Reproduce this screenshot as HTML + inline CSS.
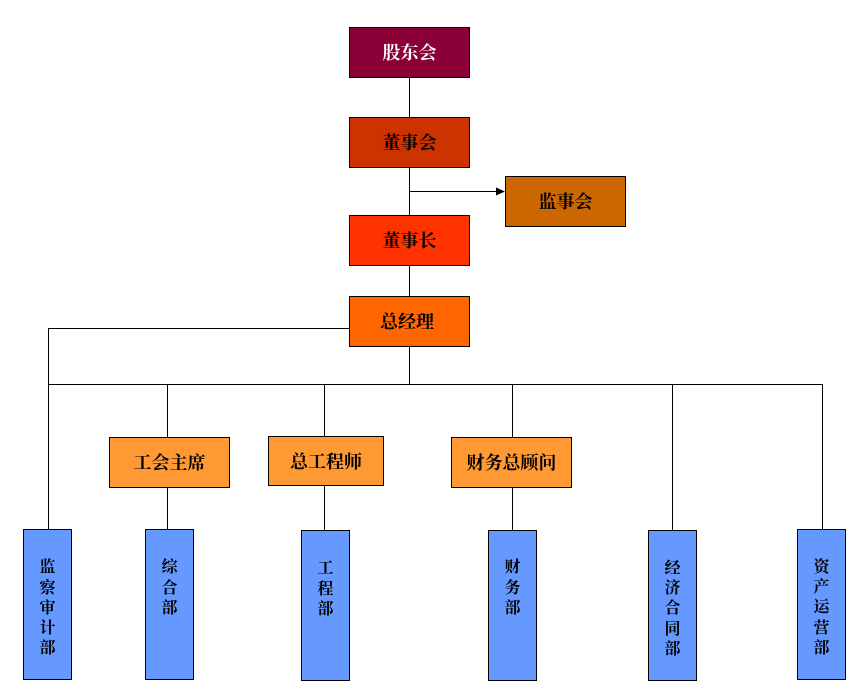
<!DOCTYPE html>
<html><head><meta charset="utf-8"><style>
html,body{margin:0;padding:0;background:#fff;}
svg{display:block;}
text{font-family:"Liberation Serif","Noto Serif CJK SC",serif;font-weight:bold;}
</style></head><body>
<svg width="865" height="691" viewBox="0 0 865 691" xmlns="http://www.w3.org/2000/svg">
<g stroke="#000" stroke-width="1" fill="none">
<line x1="409.5" y1="77" x2="409.5" y2="117"/>
<line x1="409.5" y1="167" x2="409.5" y2="215"/>
<line x1="409.5" y1="191.5" x2="497" y2="191.5"/>
<line x1="409.5" y1="265" x2="409.5" y2="296"/>
<line x1="409.5" y1="347" x2="409.5" y2="384"/>
<line x1="48.5" y1="328.5" x2="349" y2="328.5"/>
<line x1="48.5" y1="328" x2="48.5" y2="529"/>
<line x1="48.5" y1="384.5" x2="822.5" y2="384.5"/>
<line x1="167.5" y1="384" x2="167.5" y2="437"/>
<line x1="167.5" y1="487" x2="167.5" y2="529"/>
<line x1="324.5" y1="384" x2="324.5" y2="436"/>
<line x1="324.5" y1="485" x2="324.5" y2="530"/>
<line x1="512.5" y1="384" x2="512.5" y2="437"/>
<line x1="512.5" y1="487" x2="512.5" y2="530"/>
<line x1="672.5" y1="384" x2="672.5" y2="530"/>
<line x1="822.5" y1="384" x2="822.5" y2="529"/>
</g>
<polygon points="496,187.5 505,191.5 496,195.5" fill="#000"/>
<g stroke="#000" stroke-width="1">
<rect x="349.5" y="27.5" width="120" height="50" fill="#8B0037"/>
<rect x="349.5" y="117.5" width="120" height="50" fill="#CC3300"/>
<rect x="505.5" y="176.5" width="120" height="50" fill="#CC6600"/>
<rect x="349.5" y="215.5" width="120" height="50" fill="#FF3300"/>
<rect x="349.5" y="296.5" width="120" height="50" fill="#FF6600"/>
<rect x="109.5" y="437.5" width="120" height="50" fill="#FF9933"/>
<rect x="268.5" y="436.5" width="115" height="49" fill="#FF9933"/>
<rect x="451.5" y="437.5" width="120" height="50" fill="#FF9933"/>
<rect x="23.5" y="529.5" width="48" height="150" fill="#6699FF"/>
<rect x="145.5" y="529.5" width="48" height="150" fill="#6699FF"/>
<rect x="301.5" y="530.5" width="48" height="150" fill="#6699FF"/>
<rect x="488.5" y="530.5" width="48" height="150" fill="#6699FF"/>
<rect x="648.5" y="530.5" width="48" height="150" fill="#6699FF"/>
<rect x="797.5" y="529.5" width="48" height="150" fill="#6699FF"/>
</g>
<g font-size="18" text-anchor="middle">
<text x="409.5" y="59" fill="#fff">股东会</text>
<text x="409.5" y="149" fill="#000">董事会</text>
<text x="565.5" y="208" fill="#000">监事会</text>
<text x="409.5" y="247" fill="#000">董事长</text>
<text x="407" y="328" fill="#000">总经理</text>
<text x="169.5" y="469" fill="#000">工会主席</text>
<text x="326" y="468" fill="#000">总工程师</text>
<text x="511.5" y="469" fill="#000">财务总顾问</text>
</g>
<g font-size="16" text-anchor="middle" fill="#000">
<text x="47.5" y="572">监</text><text x="47.5" y="593">察</text><text x="47.5" y="613">审</text><text x="47.5" y="633">计</text><text x="47.5" y="653">部</text>
<text x="169.5" y="572">综</text><text x="169.5" y="593">合</text><text x="169.5" y="613">部</text>
<text x="325.5" y="573">工</text><text x="325.5" y="594">程</text><text x="325.5" y="614">部</text>
<text x="512.5" y="572">财</text><text x="512.5" y="593">务</text><text x="512.5" y="613">部</text>
<text x="672.5" y="573">经</text><text x="672.5" y="593">济</text><text x="672.5" y="613">合</text><text x="672.5" y="634">同</text><text x="672.5" y="654">部</text>
<text x="821.5" y="572">资</text><text x="821.5" y="592">产</text><text x="821.5" y="612">运</text><text x="821.5" y="633">营</text><text x="821.5" y="653">部</text>
</g>
</svg>
</body></html>
